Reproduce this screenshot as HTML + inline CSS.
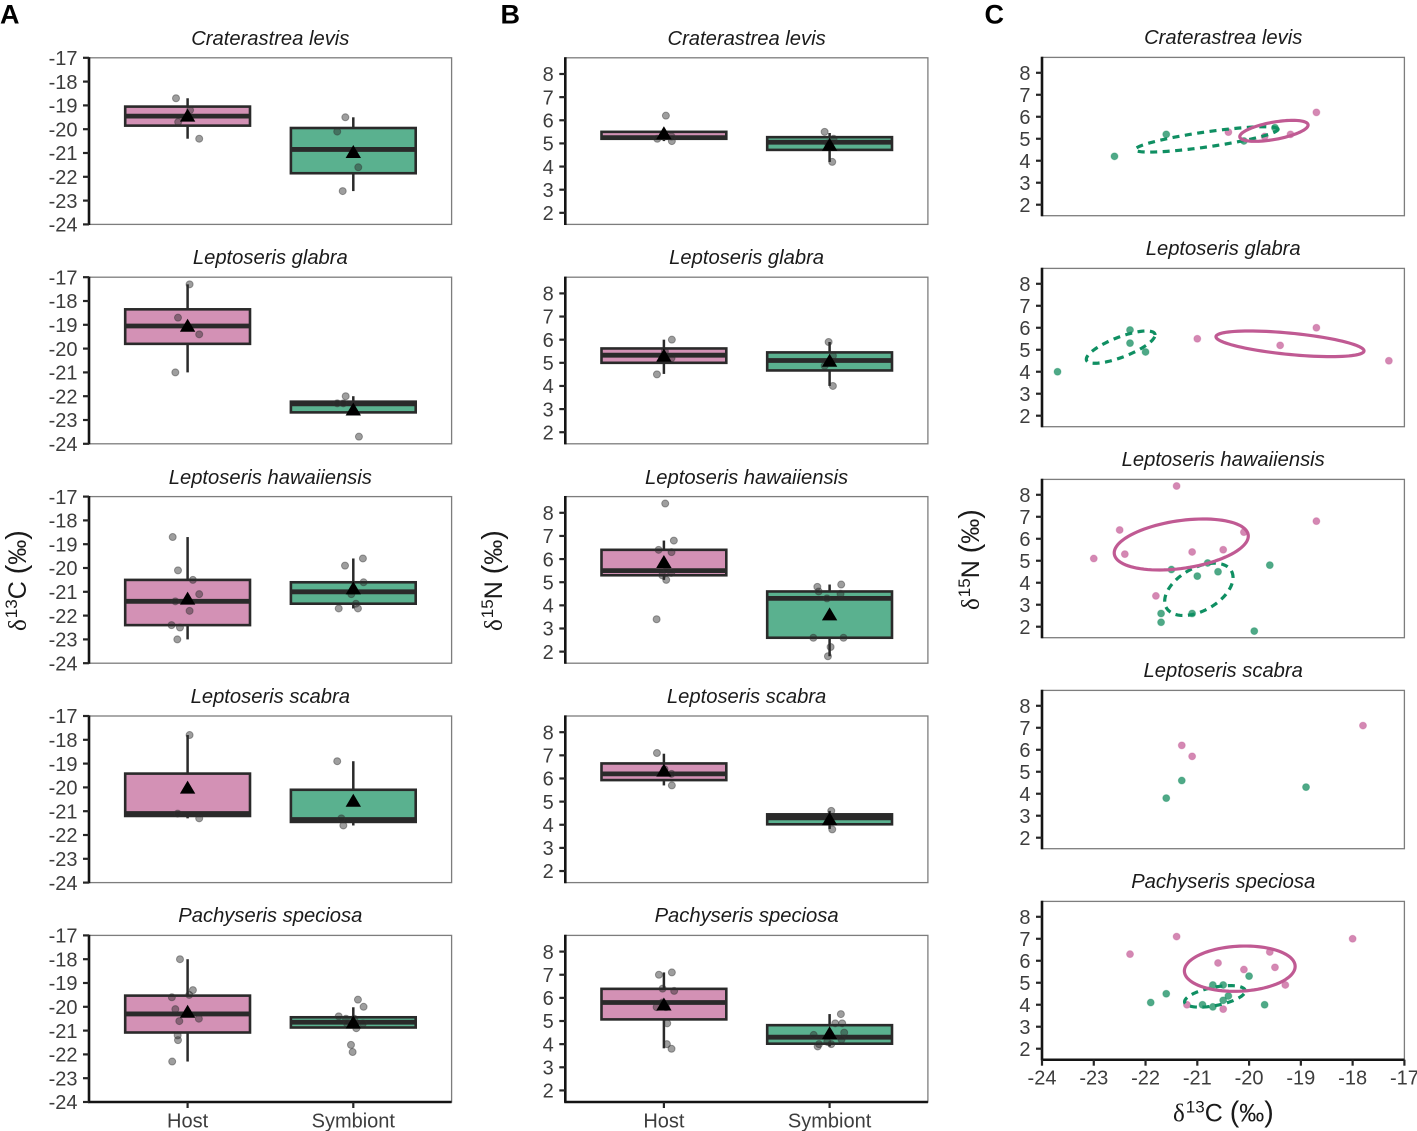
<!DOCTYPE html>
<html lang="en">
<head>
<meta charset="utf-8">
<title>Isotope composition of host and symbiont by coral species</title>
<style>
html,body{margin:0;padding:0;background:#fff;}
svg{display:block;font-family:"Liberation Sans",Arial,sans-serif;}
.tick{font-size:20px;fill:#3d3d3d;}
.title{font-size:20.2px;font-style:italic;fill:#1a1a1a;text-anchor:middle;}
.tag{font-size:27px;font-weight:bold;fill:#000;}
.axt{font-size:25px;fill:#1a1a1a;}
.axt .sym{font-family:"Liberation Serif",serif;}
.axt .sup{font-size:17px;}
.axt .par{font-size:28.5px;font-weight:normal;}
</style>
</head>
<body>
<svg id="figure" xmlns="http://www.w3.org/2000/svg" width="1417" height="1131" viewBox="0 0 1417 1131">
  <text class="tag" x="0" y="23.5">A</text>
  <text class="tag" x="500.5" y="23.5">B</text>
  <text class="tag" x="984.5" y="23.5">C</text>
  <text class="axt" transform="translate(26,631) rotate(-90)"><tspan class="sym">δ</tspan><tspan class="sup" dy="-9" dx="1">13</tspan><tspan dy="9">C </tspan><tspan class="par">(</tspan><tspan>‰</tspan><tspan class="par">)</tspan></text>
  <text class="axt" transform="translate(502,631) rotate(-90)"><tspan class="sym">δ</tspan><tspan class="sup" dy="-9" dx="1">15</tspan><tspan dy="9">N </tspan><tspan class="par">(</tspan><tspan>‰</tspan><tspan class="par">)</tspan></text>
  <text class="axt" transform="translate(979,610) rotate(-90)"><tspan class="sym">δ</tspan><tspan class="sup" dy="-9" dx="1">15</tspan><tspan dy="9">N </tspan><tspan class="par">(</tspan><tspan>‰</tspan><tspan class="par">)</tspan></text>
  <text class="axt" x="1173" y="1121.5"><tspan class="sym">δ</tspan><tspan class="sup" dy="-9" dx="1">13</tspan><tspan dy="9">C </tspan><tspan class="par">(</tspan><tspan>‰</tspan><tspan class="par">)</tspan></text>
</svg>
<script>
// ---------- categories and tick labels ----------
const species = ["Craterastrea levis","Leptoseris glabra","Leptoseris hawaiiensis","Leptoseris scabra","Pachyseris speciosa"];
const groups = ["Host","Symbiont"];
const carbonTicks = [-17,-18,-19,-20,-21,-22,-23,-24];
const nitrogenTicks = [8,7,6,5,4,3,2];
const scatterXTicks = [-24,-23,-22,-21,-20,-19,-18,-17];

// ---------- box statistics per species: [q1, median, q3, whiskerLow, whiskerHigh, mean] ----------
const carbonHostStats = [
  [-19.85,-19.45,-19.05,-20.4,-18.7,-19.42],
  [-19.8,-19.05,-18.35,-21,-17.3,-19.03],
  [-22.4,-21.4,-20.5,-23,-18.7,-21.28],
  [-21.2,-21.1,-19.42,-21.3,-17.8,-20],
  [-21.08,-20.3,-19.53,-22.3,-18,-20.2]
];
const carbonSymbiontStats = [
  [-21.85,-20.85,-19.95,-22.6,-19.5,-20.95],
  [-22.68,-22.32,-22.23,-22.68,-22,-22.55],
  [-21.5,-21,-20.6,-21.7,-19.6,-20.85],
  [-21.45,-21.35,-20.1,-21.6,-18.9,-20.55],
  [-20.87,-20.65,-20.44,-20.9,-20.02,-20.65]
];
const nitrogenHostStats = [
  [5.2,5.25,5.5,5.1,5.5,5.45],
  [5,5.33,5.62,4.52,6,5.32],
  [5.3,5.5,6.4,5.1,6.8,5.88],
  [5.93,6.2,6.65,5.7,7.07,6.35],
  [5.07,5.8,6.39,3.82,7.1,5.72]
];
const nitrogenSymbiontStats = [
  [4.72,5.05,5.27,4.2,5.45,4.95],
  [4.67,5.1,5.45,4,5.9,5.1],
  [2.6,4.3,4.6,1.8,4.9,3.62],
  [4.02,4.3,4.45,3.82,4.6,4.25],
  [4.02,4.3,4.82,3.9,5.3,4.48]
];

// ---------- jittered raw values per species, with jitter in category units ----------
const carbonHostValues = [
  [-18.7,-19.2,-19.7,-20.4],
  [-17.3,-18.7,-19.4,-21],
  [-18.7,-20.1,-20.5,-21.1,-21.4,-21.8,-22.4,-22.5,-23],
  [-17.8,-21.1,-21.3],
  [-18,-19.3,-19.6,-19.5,-20.1,-20.5,-20.6,-21.2,-21.4,-22.3]
];
const carbonHostJitter = [
  [-0.07,0.015,-0.057,0.07],
  [0.012,-0.058,0.07,-0.074],
  [-0.09,-0.058,0.032,0.07,-0.074,0.012,-0.097,-0.046,-0.062],
  [0.012,-0.06,0.07],
  [-0.046,0.032,-0.095,0.01,-0.074,0.068,-0.05,-0.06,-0.058,-0.093]
];
const carbonSymbiontValues = [
  [-19.5,-20.1,-21.6,-22.6],
  [-22,-22.3,-22.3,-23.7],
  [-19.6,-19.9,-20.6,-21.1,-21.5,-21.7,-21.7],
  [-18.9,-21.3,-21.6],
  [-19.7,-20,-20.4,-20.5,-20.5,-20.7,-20.7,-20.7,-20.9,-21.6,-21.9]
];
const carbonSymbiontJitter = [
  [-0.048,-0.097,0.03,-0.064],
  [-0.046,-0.097,-0.06,0.034],
  [0.058,-0.05,0.062,-0.012,0.016,-0.088,0.028],
  [-0.097,-0.072,-0.06],
  [0.028,0.062,-0.088,-0.044,0.006,-0.038,-0.012,0.058,0.018,-0.014,-0.004]
];
const nitrogenHostValues = [
  [6.2,5.3,5.2,5.1],
  [6,5.5,5.2,4.5],
  [8.4,6.8,6.4,6.3,5.55,5.4,5.3,5.1,3.4],
  [7.1,6.4,6.2,5.7],
  [7,7.1,6.4,6.3,5.8,5.6,5.6,4.9,4,3.8]
];
const nitrogenHostJitter = [
  [0.012,0.046,-0.04,0.048],
  [0.048,0.006,0.046,-0.042],
  [0.008,0.06,-0.032,0.046,0.018,0.044,-0.01,0.014,-0.044],
  [-0.042,0.004,0.046,0.048],
  [-0.03,0.048,-0.008,0.062,-0.008,-0.044,0.012,0.02,0.018,0.046]
];
const nitrogenSymbiontValues = [
  [5.5,5.2,5,4.2],
  [5.9,5.3,4.87,4],
  [4.8,4.9,4.6,4.5,4.3,2.6,2.6,2.2,1.8],
  [4.6,4.3,4.2,3.8],
  [5.3,4.9,4.9,4.5,4.4,4.2,4.1,4,4,3.9]
];
const nitrogenSymbiontJitter = [
  [-0.03,0.024,-0.01,0.016],
  [-0.006,0.02,-0.03,0.02],
  [-0.074,0.07,-0.066,0.066,-0.016,-0.098,0.084,0.006,-0.01],
  [0.01,-0.01,0.006,0.016],
  [0.068,0.034,0.076,0.088,-0.096,0.072,-0.014,-0.064,0.01,-0.072]
];

// ---------- scatter panels: delta-13C (x) and delta-15N (y) ----------
const scatterHostX = [
  [-18.7,-19.2,-20.4,-19.7],
  [-18.7,-19.4,-21,-17.3],
  [-23,-22.5,-22.4,-21.8,-21.4,-21.1,-20.5,-20.1,-18.7],
  [-21.3,-21.1,-17.8],
  [-22.3,-21.4,-18,-20.6,-20.1,-19.6,-19.5,-19.3,-21.2,-20.5]
];
const scatterHostY = [
  [6.2,5.2,5.3,5.1],
  [6,5.2,5.5,4.5],
  [5.1,6.4,5.3,3.4,8.4,5.4,5.5,6.3,6.8],
  [6.2,5.7,7.1],
  [6.3,7.1,7,5.9,5.6,6.4,5.7,4.9,4,3.8]
];
const scatterSymbiontX = [
  [-22.6,-21.6,-20.1,-19.5],
  [-23.7,-22.3,-22.3,-22],
  [-21.7,-21.7,-21.5,-21.1,-21,-20.8,-20.6,-19.9,-19.6],
  [-21.3,-21.6,-18.9],
  [-21.9,-21.6,-20.9,-20.7,-20.5,-20.7,-20.5,-20.4,-20,-19.7]
];
const scatterSymbiontY = [
  [4.2,5.2,4.9,5.5],
  [4,5.9,5.3,4.9],
  [2.6,2.2,4.6,2.6,4.3,4.9,4.5,1.8,4.8],
  [4.6,3.8,4.3],
  [4.1,4.5,4,4.9,4.9,3.9,4.2,4.4,5.3,4]
];

// ---------- ellipses per species: [centreX, centreY, halfWidth, halfHeight, correlation]; null = none ----------
const hostEllipses = [
  [-19.52,5.36,0.66,0.477,0.55],
  [-19.21,5.27,1.43,0.583,-0.55],
  [-21.31,5.74,1.295,1.16,0.33],
  null,
  [-20.18,5.64,1.07,1.03,0.1]
];
const symbiontEllipses = [
  [-20.82,4.97,1.38,0.576,0.8],
  [-22.48,5.12,0.664,0.735,0.75],
  [-20.97,3.7,0.66,1.19,0.45],
  null,
  [-20.66,4.38,0.586,0.49,0.5]
];

// ---------- drawing ----------
const NS = "http://www.w3.org/2000/svg";
const figure = document.getElementById("figure");
const HOST_FILL = "#d391b5", SYM_FILL = "#5ab18f", INK = "#2a2a2a";

function node(parent, tag, attrs, text) {
  const el = document.createElementNS(NS, tag);
  for (const k in attrs) el.setAttribute(k, attrs[k]);
  if (text !== undefined) el.textContent = text;
  parent.appendChild(el);
  return el;
}
function linearScale(d0, d1, r0, r1) {
  return function (v) { return r0 + (v - d0) / (d1 - d0) * (r1 - r0); };
}

function drawFrame(g, left, top, w, h, title, yTicks, y, isBottom, labelX) {
  const t = node(g, "text", {class: "title", x: left + w / 2, y: Math.round(top) - 13}, title);
  
  
  const frame = node(g, "rect", {x: left, y: top, width: w, height: h, fill: "#fff", stroke: "#7d7d7d", "stroke-width": 1.3});
  
  
  const axis = node(g, "line", {x1: left, x2: left, y1: top - 0.6, y2: top + h + 0.6, stroke: "#141414", "stroke-width": 2.6});
  
  
  if (isBottom) {
    const xAxis = node(g, "line", {x1: left - 1, x2: left + w, y1: top + h, y2: top + h, stroke: "#141414", "stroke-width": 2.5});
    
    
  }
  yTicks.forEach(function (v) {
    const py = y(v);
    const mark = node(g, "line", {x1: left - 6, x2: left, y1: py, y2: py, stroke: "#262626", "stroke-width": 2.2});
    
    
    const lab = node(g, "text", {class: "tick", x: labelX, y: py + 7.2, "text-anchor": "end"}, String(v));
    
    
  });
}

function drawBox(g, cx, halfW, y, stats, values, jitter, unit, fill, groupName) {
  const q1 = stats[0], med = stats[1], q3 = stats[2], lo = stats[3], hi = stats[4], mean = stats[5];
  const upper = node(g, "line", {x1: cx, x2: cx, y1: y(q3), y2: y(hi), stroke: INK, "stroke-width": 2.5});
  
  
  const lower = node(g, "line", {x1: cx, x2: cx, y1: y(q1), y2: y(lo), stroke: INK, "stroke-width": 2.5});
  
  
  const box = node(g, "rect", {x: cx - halfW, y: y(q3), width: 2 * halfW, height: y(q1) - y(q3), fill: fill, stroke: INK, "stroke-width": 2.6});
  
  
  const median = node(g, "line", {x1: cx - halfW, x2: cx + halfW, y1: y(med), y2: y(med), stroke: INK, "stroke-width": 4.8});
  
  
  values.forEach(function (v, i) {
    const c = node(g, "circle", {cx: cx + jitter[i] * unit, cy: y(v), r: 3.5, fill: "rgba(40,40,40,0.45)", stroke: "rgba(50,50,50,0.45)", "stroke-width": 1});
    
    
  });
  const my = y(mean);
  const tri = node(g, "polygon", {points: (cx - 7.7) + "," + (my + 6.2) + " " + (cx + 7.7) + "," + (my + 6.2) + " " + cx + "," + (my - 6.8), fill: "#000"});
  
  
}

function drawBoxColumn(name, left, valueMin, valueMax, yTicks, hostStats, symStats, hostVals, hostJit, symVals, symJit) {
  const unit = 165.7, w = 362.6, h = 166.6, offset = 98.6;
  species.forEach(function (sp, r) {
    const top = 57.8 + 219.4 * r;
    const g = node(figure, "g", {});
    
    
    const y = linearScale(valueMax, valueMin, top, top + h);
    drawFrame(g, left, top, w, h, sp, yTicks, y, r === 4, left - 11.5);
    const hostX = left + offset, symX = left + offset + unit;
    drawBox(g, hostX, 62.4, y, hostStats[r], hostVals[r], hostJit[r], unit, HOST_FILL, 'host');
    drawBox(g, symX, 62.4, y, symStats[r], symVals[r], symJit[r], unit, SYM_FILL, 'symbiont');
    if (r === 4) {
      groups.forEach(function (label, i) {
        const px = left + offset + i * unit;
        const mark = node(g, "line", {x1: px, x2: px, y1: top + h, y2: top + h + 6, stroke: "#262626", "stroke-width": 2.2});
        
        
        const lab = node(g, "text", {class: "tick", x: px, y: 1127.5, "text-anchor": "middle"}, label);
        
        
      });
    }
  });
}

function ellipsePath(e, x, y) {
  const s = Math.sqrt(Math.max(0, 1 - e[4] * e[4]));
  let d = "";
  for (let k = 0; k <= 96; k++) {
    const t = k / 96 * 2 * Math.PI;
    const dx = e[0] + e[2] * Math.cos(t);
    const dy = e[1] + e[3] * (e[4] * Math.cos(t) + s * Math.sin(t));
    d += (k ? "L" : "M") + x(dx).toFixed(2) + " " + y(dy).toFixed(2);
  }
  return d + "Z";
}

function drawScatterColumn() {
  const left = 1042, w = 362.4, h = 158.3;
  species.forEach(function (sp, r) {
    const top = 57.4 + 211 * r;
    const g = node(figure, "g", {});
    
    
    const y = linearScale(8.7, 1.5, top, top + h);
    const x = linearScale(-24, -17, left, left + w);
    drawFrame(g, left, top, w, h, sp, nitrogenTicks, y, r === 4, left - 11.5);
    scatterHostX[r].forEach(function (v, i) {
      const c = node(g, "circle", {cx: x(v), cy: y(scatterHostY[r][i]), r: 3.5, fill: "rgba(196,90,150,0.72)", stroke: "rgba(196,90,150,0.35)", "stroke-width": 1});
      
      
    });
    scatterSymbiontX[r].forEach(function (v, i) {
      const c = node(g, "circle", {cx: x(v), cy: y(scatterSymbiontY[r][i]), r: 3.5, fill: "rgba(20,140,95,0.75)", stroke: "rgba(20,140,95,0.35)", "stroke-width": 1});
      
      
    });
    if (symbiontEllipses[r]) {
      const p = node(g, "path", {d: ellipsePath(symbiontEllipses[r], x, y), fill: "none", stroke: "#0f8f62", "stroke-width": 3.2, "stroke-dasharray": "7 5.5"});
      
      
    }
    if (hostEllipses[r]) {
      const p = node(g, "path", {d: ellipsePath(hostEllipses[r], x, y), fill: "none", stroke: "#c05a93", "stroke-width": 3.2});
      
      
    }
    if (r === 4) {
      scatterXTicks.forEach(function (v) {
        const px = x(v);
        const mark = node(g, "line", {x1: px, x2: px, y1: top + h, y2: top + h + 6, stroke: "#262626", "stroke-width": 2.2});
        
        
        const lab = node(g, "text", {class: "tick", x: px, y: 1084.7, "text-anchor": "middle"}, String(v));
        
        
      });
    }
  });
}

drawBoxColumn('carbon', 89, -24, -17, carbonTicks, carbonHostStats, carbonSymbiontStats, carbonHostValues, carbonHostJitter, carbonSymbiontValues, carbonSymbiontJitter);
drawBoxColumn('nitrogen', 565.3, 1.5, 8.7, nitrogenTicks, nitrogenHostStats, nitrogenSymbiontStats, nitrogenHostValues, nitrogenHostJitter, nitrogenSymbiontValues, nitrogenSymbiontJitter);
drawScatterColumn();
</script>
</body>
</html>
